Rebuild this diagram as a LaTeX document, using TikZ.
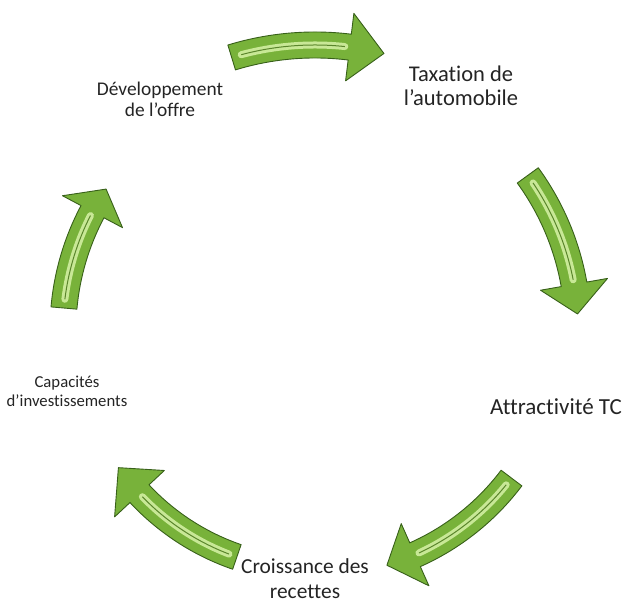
\documentclass[tikz,border=0pt]{standalone}
\usepackage{fontspec}
\setmainfont{Carlito}[Ligatures=NoCommon]
\usetikzlibrary{calc}
\definecolor{arrowgreen}{RGB}{120,178,58}
\definecolor{arrowdark}{RGB}{56,96,26}
\definecolor{arrowlight}{RGB}{200,232,150}
\definecolor{labelgray}{RGB}{36,36,36}

\begin{document}
\begin{tikzpicture}[x=1pt, y=1pt,
  lbl/.style={align=center, inner sep=0pt, text=labelgray},
  cyc/.style={fill=arrowgreen, draw=arrowdark, line width=0.9pt, line join=round},
  gloss/.style={draw=arrowlight, line width=7pt, line cap=round},
  groove/.style={draw=arrowgreen!75!black, line width=1pt}]
  \useasboundingbox (0,0) rectangle (628,604);
  \coordinate (hub) at (315,274);

  % the five cycle arrows: radius / tail / head base / tip angles
  \foreach \r/\ta/\tb/\tc in {285/107/83/76, 263/36/10/3.5, 246/-37/-66/-73,
                              240/-109/-137/-145, 252/175/152/146} {
    \begin{scope}[shift={(hub)}]
      \path[cyc] (\ta:\r+13) arc[start angle=\ta, end angle=\tb, radius=\r+13]
        -- (\tb:\r+34) -- (\tc:\r) -- (\tb:\r-34) -- (\tb:\r-13)
        arc[start angle=\tb, end angle=\ta, radius=\r-13] -- cycle;
      \draw[gloss] (\ta-2:\r) arc[start angle=\ta-2, end angle=\tb+1, radius=\r];
      \draw[groove] (\ta-2:\r) arc[start angle=\ta-2, end angle=\tb+1, radius=\r];
    \end{scope}
  }

  \node[lbl, font=\fontsize{22.5}{24}\selectfont] (tax) at (461,518) {Taxation de\\l’automobile};
  \node[lbl, font=\fontsize{23}{26}\selectfont, anchor=base] (attr) at (556,189) {Attractivité TC};
  \node[lbl, font=\fontsize{21.4}{25}\selectfont] (rec) at (305,25) {Croissance des\\recettes};
  \node[lbl, font=\fontsize{16.7}{19}\selectfont] (cap) at (67,213) {Capacités\\d’investissements};
  \node[lbl, font=\fontsize{19.4}{21}\selectfont] (dev) at (160,505) {Développement\\de l’offre};
\end{tikzpicture}
\end{document}
